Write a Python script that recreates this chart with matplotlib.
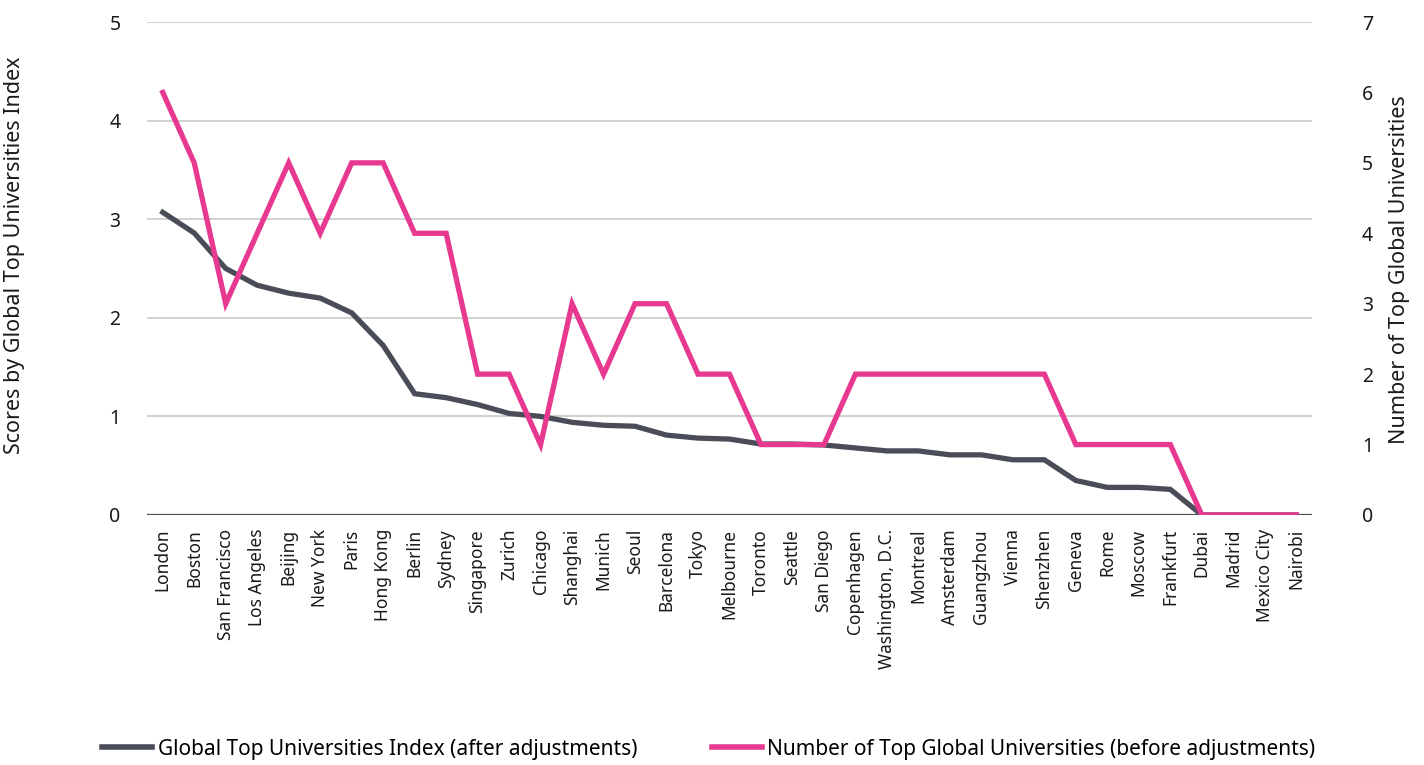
import matplotlib
matplotlib.use("Agg")
import matplotlib.pyplot as plt
from matplotlib.lines import Line2D

plt.rcParams['font.family'] = ['Noto Sans', 'DejaVu Sans']

cities = ["London", "Boston", "San Francisco", "Los Angeles", "Beijing", "New York",
          "Paris", "Hong Kong", "Berlin", "Sydney", "Singapore", "Zurich", "Chicago",
          "Shanghai", "Munich", "Seoul", "Barcelona", "Tokyo", "Melbourne", "Toronto",
          "Seattle", "San Diego", "Copenhagen", "Washington, D.C.", "Montreal",
          "Amsterdam", "Guangzhou", "Vienna", "Shenzhen", "Geneva", "Rome", "Moscow",
          "Frankfurt", "Dubai", "Madrid", "Mexico City", "Nairobi"]

index_scores = [3.07, 2.86, 2.50, 2.33, 2.25, 2.20, 2.05, 1.72, 1.23, 1.19, 1.12,
                1.03, 1.00, 0.94, 0.91, 0.90, 0.81, 0.78, 0.77, 0.72, 0.72, 0.71,
                0.68, 0.65, 0.65, 0.61, 0.61, 0.56, 0.56, 0.35, 0.28, 0.28, 0.26,
                0.0, 0.0, 0.0, 0.0]

top_univ_counts = [6, 5, 3, 4, 5, 4, 5, 5, 4, 4, 2, 2, 1, 3, 2, 3, 3, 2, 2, 1, 1, 1,
                   2, 2, 2, 2, 2, 2, 2, 1, 1, 1, 1, 0, 0, 0, 0]

left_ticks = [0, 1, 2, 3, 4, 5]
right_ticks = [0, 1, 2, 3, 4, 5, 6, 7]

GRAY = "#4a4d57"
PINK = "#e6398f"
GRID = "#c8c8c8"
TEXT = "#1a1a1a"

fig = plt.figure(figsize=(14.24, 7.65), dpi=100)
ax = fig.add_axes([147 / 1424, 1 - 515 / 765, 1165 / 1424, 493 / 765])
ax2 = ax.twinx()

x = list(range(len(cities)))
ax.set_xlim(-0.5, len(cities) - 0.5)
ax.set_ylim(0, 5)
ax2.set_ylim(0, 7)

for t in left_ticks[1:]:
    ax.axhline(t, color=GRID, lw=1.2, zorder=0)
ax.axhline(0, color=GRAY, lw=1.6, zorder=1)

ax.plot(x, index_scores, color=GRAY, lw=3.8, solid_joinstyle='miter', zorder=3)
ax2.plot(x, top_univ_counts, color=PINK, lw=3.8, solid_joinstyle='miter', zorder=3)

for a in (ax, ax2):
    for s in a.spines.values():
        s.set_visible(False)
    a.tick_params(length=0, labelsize=14, colors=TEXT)

ax.set_yticks(left_ticks)
ax.tick_params(axis='y', pad=19)
ax2.set_yticks(right_ticks)
ax2.tick_params(axis='y', pad=36)

ax.set_xticks(x)
ax.set_xticklabels(cities, rotation=90, fontsize=12.5, color=TEXT)
ax.tick_params(axis='x', pad=10)

fig.text(15 / 1424, 1 - 255 / 765, "Scores by Global Top Universities Index",
         rotation=90, ha='center', va='center', fontsize=15.5, color=TEXT)
fig.text(1400 / 1424, 1 - 270 / 765, "Number of Top Global Universities",
         rotation=90, ha='center', va='center', fontsize=15.5, color=TEXT)

handles = [Line2D([], [], color=GRAY, lw=4),
           Line2D([], [], color=PINK, lw=4)]
labels = ["Global Top Universities Index (after adjustments)",
          "Number of Top Global Universities (before adjustments)"]
fig.legend(handles, labels, loc='center', bbox_to_anchor=(709 / 1424, 1 - 749 / 765), ncol=2,
           frameon=False, fontsize=15, handlelength=2.4, handletextpad=0.25,
           columnspacing=3.6, borderpad=0, borderaxespad=0)

fig.savefig("out.png", dpi=100, facecolor="white")
